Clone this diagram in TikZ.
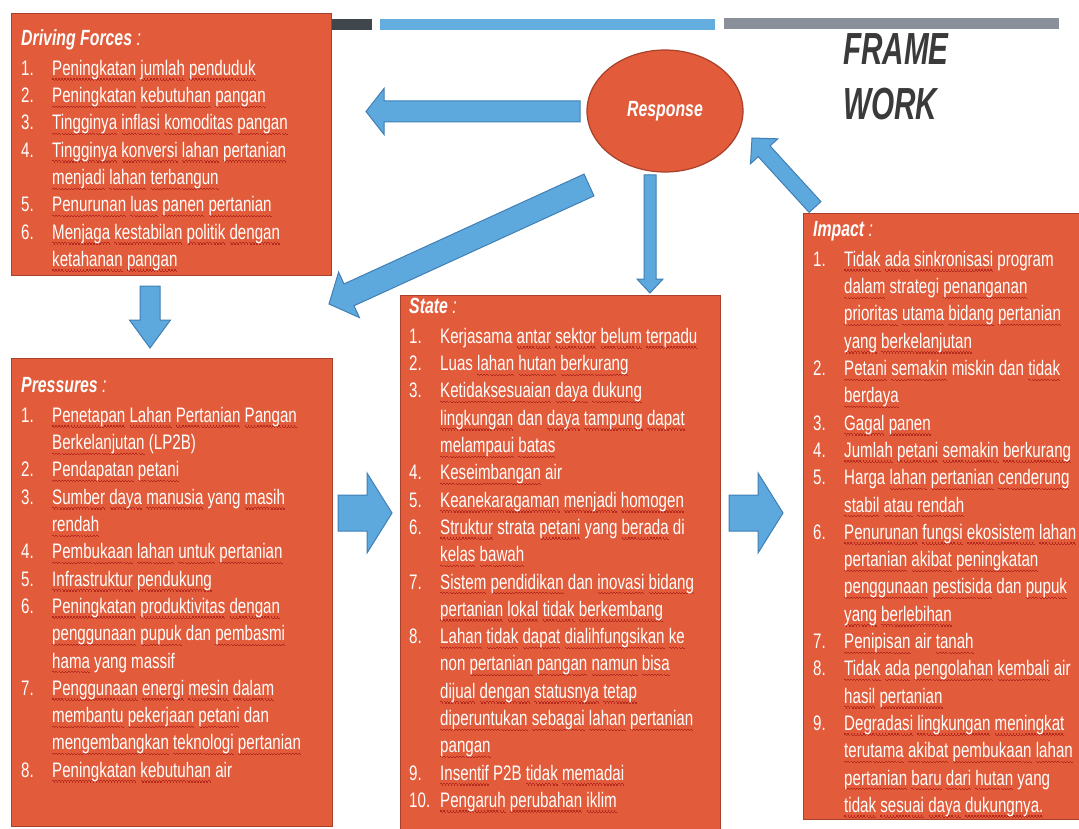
\documentclass[tikz,border=0pt]{standalone}
\usepackage{fontspec}
\setmainfont{Liberation Sans}[FakeStretch=0.72]
\newfontfamily\framefont{Liberation Sans}[FakeStretch=0.66]
\usetikzlibrary{calc,shapes.geometric}
\definecolor{boxfill}{HTML}{E25B3A}
\definecolor{boxedge}{HTML}{A8402A}
\definecolor{arrfill}{HTML}{5DA9DE}
\definecolor{arredge}{HTML}{3F7FB5}
\definecolor{bardark}{HTML}{3F464C}
\definecolor{barblue}{HTML}{64AEDF}
\definecolor{bargray}{HTML}{8A9099}
\definecolor{titlegray}{HTML}{3A3A3A}
\definecolor{wavecol}{HTML}{B52A1E}
\newcommand\wavepiece{\hbox to 3pt{\vrule height -3pt depth 4.2pt width 1.5pt\vrule height -4.2pt depth 5.4pt width 1.5pt}}
\newcommand\wvu[1]{\setbox0\hbox{#1}\rlap{\color{wavecol}\hbox to\wd0{\xleaders\wavepiece\hfill}}\box0\relax}
\def\wv#1{\wvA#1 \wvend}
\def\wvA#1 #2\wvend{\wvu{#1}\ifx\relax#2\relax\else\ \wvA#2\wvend\fi}
\newcommand\blkarrow[5]{%
  \coordinate (hb) at ($(#2)!#5!(#1)$);
  \filldraw[arrowsty] ($(#1)!#3!90:(#2)$) -- ($(hb)!#3!90:(#2)$) -- ($(hb)!#4!90:(#2)$) -- (#2) -- ($(hb)!#4!-90:(#2)$) -- ($(hb)!#3!-90:(#2)$) -- ($(#1)!#3!-90:(#2)$) -- cycle;}
\begin{document}
\begin{tikzpicture}[x=1pt,y=-1pt,
  box/.style={draw=boxedge, line width=1.4pt, fill=boxfill, anchor=north west, inner sep=0pt},
  txt/.style={anchor=north west, inner sep=0pt, text=white, font=\fontsize{21}{27.3}\selectfont},
  arrowsty/.style={fill=arrfill, draw=arredge, line width=1pt, line join=miter}]
\useasboundingbox (0,0) rectangle (1079,829);
\clip (0,0) rectangle (1079,829);
% top bars
\fill[bardark] (300,19) rectangle (372,30);
\fill[barblue] (380,19) rectangle (715,30);
\fill[bargray] (724,18) rectangle (1059,29);
% title
\node[anchor=base west, inner sep=0pt, text=titlegray, font=\framefont\fontsize{45}{54}\selectfont\bfseries\itshape] (frame) at (843,65) {FRAME};
\node[anchor=base west, inner sep=0pt, text=titlegray, font=\framefont\fontsize{45}{54}\selectfont\bfseries\itshape] (work) at (843,120) {WORK};
% boxes
\node[box, minimum width=320pt, minimum height=262pt] (drv) at (11,13) {};
\node[box, minimum width=321pt, minimum height=468pt] (prs) at (11,358) {};
\node[box, minimum width=320pt, minimum height=545pt] (sta) at (400,295) {};
\node[box, minimum width=290pt, minimum height=606pt] (imp) at (803,213) {};
\node[ellipse, draw=boxedge, line width=1.2pt, fill=boxfill, minimum width=156pt, minimum height=122pt, inner sep=0pt, text=white, font=\fontsize{22}{26}\selectfont\bfseries\itshape] (resp) at (665,111) {Response};
% texts
\node[txt] (drvt) at (21,26) {\begin{tabular}{@{}p{31pt}@{}l@{}}
\multicolumn{2}{@{}l@{}}{\fontsize{22}{27.3}\selectfont\bfseries\itshape Driving Forces \mdseries:}\\[2.7pt]
1. & \wv{Peningkatan jumlah penduduk}\\
2. & \wv{Peningkatan kebutuhan pangan}\\
3. & \wv{Tingginya inflasi komoditas pangan}\\
4. & \wv{Tingginya konversi lahan pertanian}\\
   & \wv{menjadi lahan terbangun}\\
5. & \wv{Penurunan luas panen pertanian}\\
6. & \wv{Menjaga kestabilan politik dengan}\\
   & \wv{ketahanan pangan}
\end{tabular}};
\node[txt] (prst) at (21,373) {\begin{tabular}{@{}p{31pt}@{}l@{}}
\multicolumn{2}{@{}l@{}}{\fontsize{22}{27.3}\selectfont\bfseries\itshape Pressures \mdseries:}\\[2.7pt]
1. & \wv{Penetapan Lahan Pertanian Pangan}\\
   & \wv{Berkelanjutan} (LP2B)\\
2. & \wv{Pendapatan petani}\\
3. & \wv{Sumber daya manusia} yang \wv{masih}\\
   & \wv{rendah}\\
4. & \wv{Pembukaan lahan untuk pertanian}\\
5. & \wv{Infrastruktur pendukung}\\
6. & \wv{Peningkatan produktivitas dengan}\\
   & \wv{penggunaan pupuk} dan \wv{pembasmi}\\
   & \wv{hama} yang massif\\
7. & \wv{Penggunaan energi mesin dalam}\\
   & \wv{membantu pekerjaan petani} dan\\
   & \wv{mengembangkan teknologi pertanian}\\
8. & \wv{Peningkatan kebutuhan} air
\end{tabular}};
\node[txt] (stat) at (409,294) {\begin{tabular}{@{}p{31pt}@{}l@{}}
\multicolumn{2}{@{}l@{}}{\fontsize{22}{27.3}\selectfont\bfseries\itshape State \mdseries:}\\[2.7pt]
1. & Kerjasama \wv{antar sektor belum terpadu}\\
2. & Luas \wv{lahan hutan berkurang}\\
3. & \wv{Ketidaksesuaian daya dukung}\\
   & \wv{lingkungan} dan \wv{daya tampung dapat}\\
   & \wv{melampaui batas}\\
4. & \wv{Keseimbangan} air\\
5. & \wv{Keanekaragaman menjadi homogen}\\
6. & \wv{Struktur} strata \wv{petani} yang \wv{berada} di\\
   & \wv{kelas bawah}\\
7. & \wv{Sistem pendidikan} dan \wv{inovasi bidang}\\
   & \wv{pertanian lokal tidak berkembang}\\
8. & \wv{Lahan tidak dapat dialihfungsikan ke}\\
   & non \wv{pertanian pangan namun bisa}\\
   & \wv{dijual dengan statusnya tetap}\\
   & \wv{diperuntukan sebagai lahan pertanian}\\
   & \wv{pangan}\\
9. & \wv{Insentif} P2B \wv{tidak memadai}\\
10. & \wv{Pengaruh perubahan iklim}
\end{tabular}};
\node[txt] (impt) at (813,217) {\begin{tabular}{@{}p{31pt}@{}l@{}}
\multicolumn{2}{@{}l@{}}{\fontsize{22}{27.3}\selectfont\bfseries\itshape Impact \mdseries:}\\[2.7pt]
1. & \wv{Tidak ada sinkronisasi} program\\
   & \wv{dalam} strategi \wv{penanganan}\\
   & \wv{prioritas utama bidang pertanian}\\
   & \wv{yang berkelanjutan}\\
2. & \wv{Petani semakin} miskin dan \wv{tidak}\\
   & \wv{berdaya}\\
3. & \wv{Gagal panen}\\
4. & \wv{Jumlah petani semakin berkurang}\\
5. & Harga \wv{lahan pertanian cenderung}\\
   & \wv{stabil atau rendah}\\
6. & \wv{Penurunan fungsi ekosistem lahan}\\
   & \wv{pertanian akibat peningkatan}\\
   & \wv{penggunaan pestisida} dan \wv{pupuk}\\
   & \wv{yang berlebihan}\\
7. & \wv{Penipisan} air \wv{tanah}\\
8. & \wv{Tidak ada pengolahan kembali} air\\
   & \wv{hasil pertanian}\\
9. & \wv{Degradasi lingkungan meningkat}\\
   & \wv{terutama akibat pembukaan lahan}\\
   & \wv{pertanian baru dari hutan} yang\\
   & \wv{tidak sesuai daya dukungnya.}
\end{tabular}};
% arrow end points
\coordinate (a1s) at (580,111.5);
\coordinate (a1e) at (366,111.5);
\coordinate (a2s) at (589,185);
\coordinate (a2e) at (329,304);
\coordinate (a3s) at (650,175);
\coordinate (a3e) at (650,293);
\coordinate (a4s) at (815,207);
\coordinate (a4e) at (752,138);
\coordinate (a5s) at (150,286);
\coordinate (a5e) at (150,348);
\coordinate (a6s) at (338,513);
\coordinate (a6e) at (392,513);
\coordinate (a7s) at (729,513);
\coordinate (a7e) at (783,513);
\blkarrow{a1s}{a1e}{10.5pt}{23pt}{18pt}
\blkarrow{a2s}{a2e}{12pt}{25pt}{22pt}
\blkarrow{a3s}{a3e}{6pt}{13pt}{14pt}
\blkarrow{a4s}{a4e}{8pt}{18.5pt}{18pt}
\blkarrow{a5s}{a5e}{10pt}{20.5pt}{28pt}
\blkarrow{a6s}{a6e}{18pt}{40pt}{25pt}
\blkarrow{a7s}{a7e}{18pt}{40pt}{25pt}
\end{tikzpicture}
\end{document}
